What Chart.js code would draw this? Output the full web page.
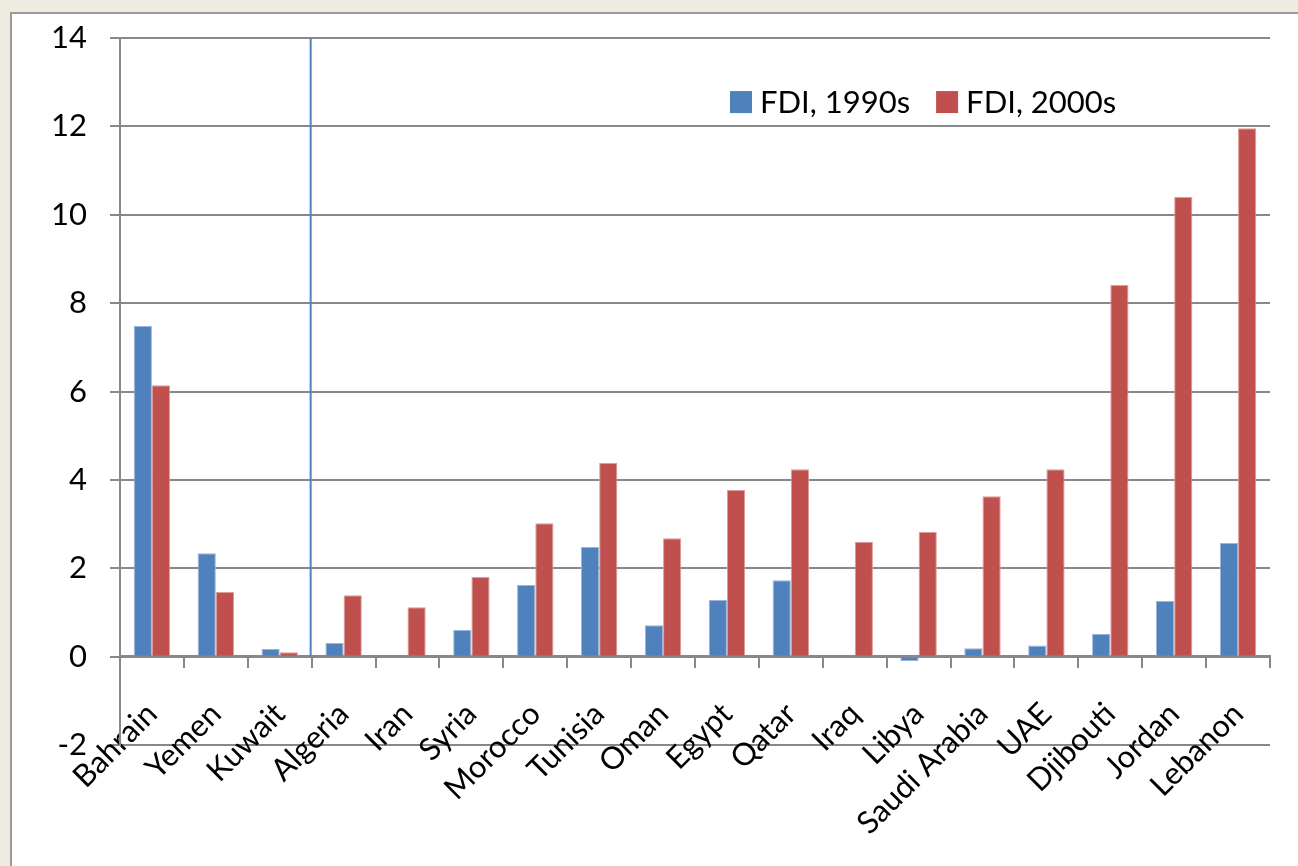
<!DOCTYPE html>
<html>
<head>
<meta charset="utf-8">
<script src="https://cdn.jsdelivr.net/npm/chart.js@4.4.0/dist/chart.umd.min.js"></script>
<style>
  html, body { margin: 0; padding: 0; background: #eeebe1; }
  #wrap { width: 1298px; height: 866px; }
</style>
</head>
<body>
<div id="wrap"><canvas id="myChart" width="1298" height="866"></canvas></div>
<script>
const countries = ['Bahrain', 'Yemen', 'Kuwait', 'Algeria', 'Iran', 'Syria', 'Morocco', 'Tunisia', 'Oman',
  'Egypt', 'Qatar', 'Iraq', 'Libya', 'Saudi Arabia', 'UAE', 'Djibouti', 'Jordan', 'Lebanon'];
const fdi1990s = [7.48, 2.34, 0.17, 0.31, 0.02, 0.6, 1.62, 2.48, 0.71, 1.28, 1.73, 0.02, -0.1, 0.19, 0.25, 0.51, 1.26, 2.57];
const fdi2000s = [6.14, 1.46, 0.1, 1.39, 1.12, 1.8, 3.02, 4.38, 2.68, 3.77, 4.24, 2.6, 2.82, 3.63, 4.24, 8.41, 10.4, 11.96];
const yTicks = [-2, 0, 2, 4, 6, 8, 10, 12, 14];
const dividerAfter = 'Kuwait';

const gray = '#888888';
const fontFamily = 'Lato, "Open Sans", sans-serif';

// beige background + white panel behind the chart
const panelPlugin = {
  id: 'panel',
  beforeDraw(chart) {
    const ctx = chart.ctx;
    ctx.save();
    ctx.fillStyle = '#eeebe1';
    ctx.fillRect(0, 0, chart.width, chart.height);
    ctx.fillStyle = '#ffffff';
    ctx.fillRect(11, 13, chart.width, chart.height);
    ctx.strokeStyle = '#9a9a9a';
    ctx.lineWidth = 2;
    ctx.strokeRect(11, 13, chart.width + 10, chart.height + 10);
    ctx.restore();
  }
};

// blue divider line between Kuwait and Algeria
const dividerPlugin = {
  id: 'divider',
  afterDatasetsDraw(chart) {
    const x = chart.scales.x, y = chart.scales.y;
    const i = countries.indexOf(dividerAfter);
    const px = (x.getPixelForValue(i) + x.getPixelForValue(i + 1)) / 2 - 1;
    const ctx = chart.ctx;
    ctx.save();
    ctx.strokeStyle = '#4f81bd';
    ctx.lineWidth = 2;
    ctx.beginPath();
    ctx.moveTo(px, y.getPixelForValue(14));
    ctx.lineTo(px, y.getPixelForValue(0));
    ctx.stroke();
    ctx.restore();
  }
};

// legend sitting inside the plot area
const legendPlugin = {
  id: 'innerLegend',
  afterDraw(chart) {
    const ctx = chart.ctx;
    const mid = chart.scales.y.getPixelForValue(12.55);
    let x = 730;
    ctx.save();
    ctx.font = '31px ' + fontFamily;
    ctx.textBaseline = 'middle';
    chart.data.datasets.forEach(ds => {
      ctx.fillStyle = ds.backgroundColor;
      ctx.fillRect(x, mid - 11, 22, 22);
      ctx.fillStyle = '#000';
      ctx.fillText(ds.label, x + 30, mid + 1);
      x += 30 + ctx.measureText(ds.label).width + 26;
    });
    ctx.restore();
  }
};

new Chart(document.getElementById('myChart').getContext('2d'), {
  type: 'bar',
  data: {
    labels: countries,
    datasets: [
      { label: 'FDI, 1990s', data: fdi1990s, backgroundColor: '#4f81bd', borderColor: '#9bb5da', borderWidth: 1 },
      { label: 'FDI, 2000s', data: fdi2000s, backgroundColor: '#c0504d', borderColor: '#dd9b99', borderWidth: 1 }
    ]
  },
  options: {
    responsive: false,
    animation: false,
    layout: { padding: { top: 38, right: 28, bottom: 121, left: 0 } },
    datasets: { bar: { categoryPercentage: 0.57, barPercentage: 1 } },
    plugins: { legend: { display: false }, tooltip: { enabled: false } },
    scales: {
      x: {
        position: { y: 0 },
        offset: true,
        grid: { offset: true, drawOnChartArea: false, drawTicks: true, tickLength: 10, color: gray, lineWidth: 2 },
        border: { display: true, color: gray, width: 3 },
        ticks: { color: '#000', font: { family: fontFamily, size: 31 }, maxRotation: 45, minRotation: 45, padding: 29, autoSkip: false }
      },
      y: {
        min: -2, max: 14,
        afterBuildTicks(scale) { scale.ticks = yTicks.map(v => ({ value: v })); },
        afterFit(scale) {
          scale.width = 120;
          // labels may overhang the plot; don't let them push the chart area
          scale.paddingTop = 0;
          scale.paddingBottom = 0;
        },
        grid: { color: gray, lineWidth: 2, tickLength: 10, drawTicks: true },
        border: { display: true, color: gray, width: 2 },
        ticks: { color: '#000', font: { family: fontFamily, size: 31 }, padding: 23 }
      }
    }
  },
  plugins: [panelPlugin, dividerPlugin, legendPlugin]
});
</script>
</body>
</html>
